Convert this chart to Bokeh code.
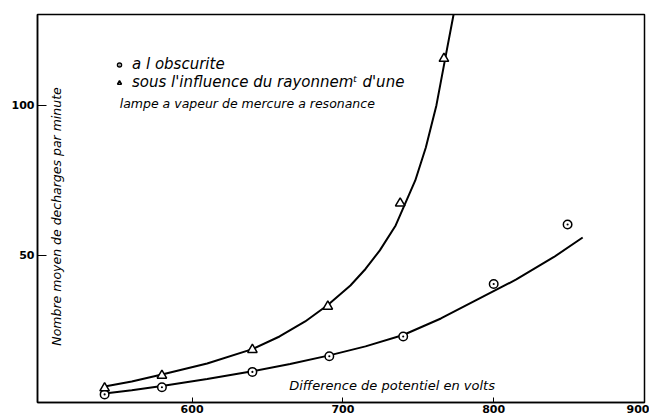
import math
from bokeh.plotting import figure
from bokeh.models import Range1d, FixedTicker, Label, Legend, LegendItem
from bokeh.embed import file_html
from bokeh.resources import INLINE

volts_dark = [542, 580, 640, 691, 740, 800, 849]
rate_dark = [3.7, 6.1, 11.2, 16.4, 23.0, 40.5, 60.3]
volts_lamp = [542, 580, 640, 690, 738, 767]
rate_lamp = [5.8, 10.0, 18.6, 33.0, 67.4, 115.6]

# hand-drawn curves, points
curve_dark_x = [542, 560, 580, 610, 640, 665, 691, 715, 740, 765, 790, 815, 840, 859]
curve_dark_y = [4.0, 5.1, 6.5, 8.8, 11.4, 13.8, 16.7, 19.7, 23.5, 29.0, 35.5, 42.0, 49.5, 56.0]
curve_lamp_x = [542, 560, 580, 610, 640, 658, 675, 690, 705, 715, 724.5, 735, 748, 755, 762, 768, 773.4]
curve_lamp_y = [6.3, 8.0, 10.3, 14.0, 18.8, 23.0, 28.0, 33.5, 40.0, 45.5, 51.7, 60.0, 75.0, 86.0, 100.0, 116.0, 130.3]

x_ticks = [600, 700, 800, 900]
y_ticks = [50, 100]

label_dark = "a l obscurite"
label_lamp = "sous l'influence du rayonnem\u1d57 d'une"
label_lamp2 = "lampe a vapeur de mercure a resonance"
x_title = "Difference de potentiel en volts"
y_title = "Nombre moyen de decharges par minute"

FONT = "DejaVu Sans"

p = figure(width=649, height=417, output_backend="svg", toolbar_location=None,
           x_range=Range1d(497.5, 900), y_range=Range1d(1, 130.3),
           min_border_left=37, min_border_right=5, min_border_top=14, min_border_bottom=15)
p.background_fill_color = "white"
p.border_fill_color = "white"
p.outline_line_color = "black"
p.outline_line_width = 1.5
p.xgrid.visible = False
p.ygrid.visible = False

p.xaxis.ticker = FixedTicker(ticks=x_ticks)
p.yaxis.ticker = FixedTicker(ticks=y_ticks)
for ax in (p.xaxis[0], p.yaxis[0]):
    ax.axis_line_color = "black"
    ax.axis_line_width = 1.5
    ax.major_tick_line_color = "black"
    ax.major_tick_line_width = 1
    ax.major_tick_out = 0
    ax.minor_tick_line_color = None
    ax.major_label_text_font = FONT
    ax.major_label_text_font_style = "bold"
    ax.major_label_text_font_size = "11px"
    ax.major_label_text_color = "black"
p.xaxis.major_tick_in = 5
p.yaxis.major_tick_in = 9
p.xaxis.major_label_standoff = 2
p.yaxis.major_label_standoff = 3

p.line(curve_dark_x, curve_dark_y, line_color="black", line_width=2)
p.line(curve_lamp_x, curve_lamp_y, line_color="black", line_width=2)

r_dark = p.scatter(volts_dark, rate_dark, marker="circle_dot", size=8.5,
                   fill_color="white", line_color="black", line_width=1.5)
r_lamp = p.scatter(volts_lamp, rate_lamp, marker="triangle", size=9.5,
                   fill_color="white", line_color="black", line_width=1.5)

legend = Legend(items=[LegendItem(label=label_dark, renderers=[r_dark]),
                       LegendItem(label=label_lamp, renderers=[r_lamp])],
                location=(77, 311), padding=0, spacing=0, margin=0,
                glyph_width=10, glyph_height=15, label_height=15, label_standoff=8,
                border_line_color=None, background_fill_alpha=0,
                label_text_font=FONT, label_text_font_style="italic",
                label_text_font_size="15px", label_text_color="black")
p.add_layout(legend)

p.add_layout(Label(x=552, y=100.7, text=label_lamp2, text_font=FONT,
                   text_font_style="italic", text_font_size="12.5px",
                   text_align="left", text_baseline="middle", text_color="black"))
p.add_layout(Label(x=732.6, y=6.7, text=x_title, text_font=FONT,
                   text_font_style="italic", text_font_size="13px",
                   text_align="center", text_baseline="middle", text_color="black"))
p.add_layout(Label(x=510.1, y=63, text=y_title, text_font=FONT, angle=math.pi / 2,
                   text_font_style="italic", text_font_size="12.5px",
                   text_align="center", text_baseline="middle", text_color="black"))

open("out.html", "w").write(file_html(p, INLINE))
